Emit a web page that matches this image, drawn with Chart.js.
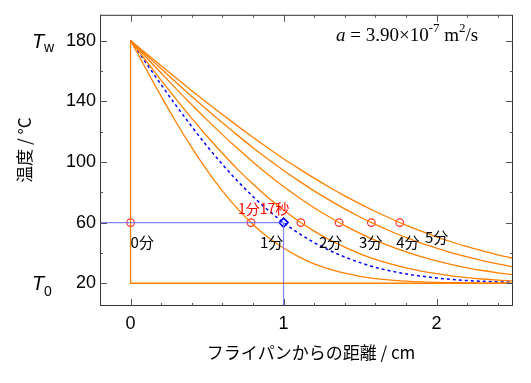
<!DOCTYPE html>
<html><head><meta charset="utf-8">
<script src="https://cdn.jsdelivr.net/npm/chart.js@4"></script>
<style>html,body{margin:0;padding:0;background:#fff}#wrap{width:531px;height:383px}</style>
</head><body><div id="wrap"><canvas id="c" width="531" height="383"></canvas></div>
<script>
// distance from pan (cm)
const xs = [0,0.1,0.2,0.3,0.4,0.5,0.6,0.7,0.8,0.9,1.0,1.1,1.2,1.3,1.4,1.5,1.6,1.7,1.8,1.9,2.0,2.1,2.2,2.3,2.4,2.5];
// temperature (°C) curves
const t1min = [180,161.4,143.2,125.8,109.4,94.4,80.9,69.0,58.8,50.2,43.2,37.4,32.8,29.3,26.6,24.6,23.1,22.1,21.4,20.9,20.6,20.4,20.2,20.1,20.1,20.0];
const t2min = [180,166.8,153.8,141.1,128.7,116.9,105.7,95.1,85.4,76.4,68.3,60.9,54.4,48.7,43.8,39.4,35.8,32.7,30.1,28.0,26.3,24.9,23.7,22.8,22.1,21.6];
const t3min = [180,169.2,158.6,148.0,137.7,127.7,118.0,108.8,100.0,91.6,83.8,76.5,69.8,63.7,58.0,52.9,48.3,44.3,40.7,37.5,34.7,32.3,30.2,28.4,26.9,25.6];
const t4min = [180,170.7,161.4,152.2,143.2,134.4,125.8,117.5,109.4,101.7,94.4,87.5,80.9,74.8,69.0,63.7,58.8,54.3,50.2,46.4,43.2,40.0,37.4,34.9,32.8,30.9];
const t5min = [180,171.7,163.4,155.1,147.0,139.0,131.2,123.6,116.2,109.0,102.1,95.6,89.3,83.3,77.6,72.3,67.3,62.7,58.3,54.3,50.6,47.2,44.1,41.4,38.7,36.5];
const tDash = [180,165.4,150.9,136.8,123.3,110.4,98.4,87.3,77.2,68.1,60.0,52.9,46.8,41.7,37.3,33.6,30.5,28.1,26.2,24.7,23.5,22.5,21.8,21.3,20.9,20.7];
// initial state (0分)
const t0X = [0,0,2.5];
const t0Y = [180,20,20];
// points where T = 60
const markX = [0,0.787,1.113,1.363,1.574,1.760];
const markY = [60,60,60,60,60,60];
const diamondX = [1.0];
const diamondY = [60];
// guide lines
const guideX = [-0.2,1.0,1.0];
const guideY = [60,60,5];
// tick values
const xTicks = [0,1,2];
const yTicks = [20,60,100,140,180];
// curve labels
const labelText = ['0分','1分','2分','3分','4分','5分','1分17秒'];
const labelX = [0.0,0.846,1.231,1.494,1.736,1.924,0.702];
const labelY = [46.9,47.3,46.7,46.7,46.7,50.6,69.4];

const pts = (a,b)=>a.map((v,i)=>({x:v,y:b[i]}));
const ORANGE = '#ff8000';
const curve = (arr)=>({data:pts(xs,arr),borderColor:ORANGE,borderWidth:1.3,pointRadius:0,cubicInterpolationMode:'monotone',fill:false});

const framePlugin = {
  id:'frame',
  afterDraw(chart){
    const {ctx,chartArea:a,scales:{x,y}} = chart;
    ctx.save();
    ctx.strokeStyle='#333'; ctx.lineWidth=1;
    ctx.strokeRect(a.left+0.5,a.top+0.5,a.right-a.left-1,a.bottom-a.top-1);
    ctx.strokeStyle='#555';
    ctx.beginPath();
    for(let v=-0.2; v<=2.5001; v+=0.2){
      const vv=Math.round(v*10)/10;
      const major = Math.abs(vv-Math.round(vv))<1e-6;
      const L = major?7:3;
      const px=Math.round(x.getPixelForValue(vv))+0.5;
      if(px<=a.left+1||px>=a.right-1) continue;
      ctx.moveTo(px,a.bottom); ctx.lineTo(px,a.bottom-L);
      ctx.moveTo(px,a.top); ctx.lineTo(px,a.top+L);
    }
    for(let v=20; v<=190; v+=20){
      const major = (v-20)%40===0;
      const L = major?7:3;
      const py=Math.round(y.getPixelForValue(v))+0.5;
      ctx.moveTo(a.left,py); ctx.lineTo(a.left+L,py);
      ctx.moveTo(a.right,py); ctx.lineTo(a.right-L,py);
    }
    ctx.stroke();

    // curve labels
    ctx.textBaseline='middle'; ctx.textAlign='left';
    labelText.forEach((t,i)=>{
      const red = i===6;
      ctx.fillStyle = red?'#ff0000':'#000';
      ctx.font = (red?'14px':'15px')+' "Noto Sans CJK JP", sans-serif';
      ctx.fillText(t, x.getPixelForValue(labelX[i]), y.getPixelForValue(labelY[i]));
    });

    // T_w, T_0
    ctx.fillStyle='#000'; ctx.textBaseline='alphabetic';
    const tw = y.getPixelForValue(180), t0 = y.getPixelForValue(20);
    ctx.font='italic 20px "Liberation Sans", Arial, sans-serif';
    ctx.fillText('T',32,tw+7);
    ctx.fillText('T',32,t0+7);
    ctx.font='14px "Liberation Sans", Arial, sans-serif';
    ctx.fillText('w',44,tw+11);
    ctx.fillText('0',44,t0+13);

    // diffusivity annotation
    let cx=336; const by=41;
    const seg=(txt,font,dy)=>{ctx.font=font; ctx.fillText(txt,cx,by+dy); cx+=ctx.measureText(txt).width;};
    const F='"Liberation Serif", "Times New Roman", serif';
    seg('a','italic 19px '+F,0);
    seg(' = 3.90×10','19px '+F,0);
    seg('-7','13px '+F,-9);
    seg(' m','19px '+F,0);
    seg('2','13px '+F,-9);
    seg('/s','19px '+F,0);

    // axis titles
    ctx.font='17px "Noto Sans CJK JP", sans-serif';
    ctx.textAlign='center'; ctx.textBaseline='middle';
    ctx.fillText('フライパンからの距離 / cm',311,353);
    ctx.translate(25,150); ctx.rotate(-Math.PI/2);
    ctx.fillText('温度 / °C',0,0);
    ctx.restore();
  }
};

new Chart(document.getElementById('c'),{
  type:'line',
  data:{datasets:[
    {data:pts(guideX,guideY),borderColor:'rgba(110,110,255,0.85)',borderWidth:1.2,pointRadius:0,tension:0},
    {data:pts(t0X,t0Y),borderColor:ORANGE,borderWidth:1.3,pointRadius:0,tension:0},
    curve(t1min),curve(t2min),curve(t3min),curve(t4min),curve(t5min),
    {data:pts(xs,tDash),borderColor:'#0000ff',borderWidth:1.5,borderDash:[3,3],pointRadius:0,cubicInterpolationMode:'monotone'},
    {data:pts(markX,markY),showLine:false,pointRadius:3.8,pointStyle:'circle',pointBorderColor:'#ff3030',pointBackgroundColor:'rgba(0,0,0,0)',pointBorderWidth:1.2},
    {data:pts(diamondX,diamondY),showLine:false,pointRadius:4.5,pointStyle:'rectRot',pointBorderColor:'#0000ff',pointBackgroundColor:'rgba(0,0,0,0)',pointBorderWidth:1.6}
  ]},
  options:{
    responsive:false,animation:false,
    layout:{padding:{top:11,right:18,left:0,bottom:0}},
    plugins:{legend:{display:false},tooltip:{enabled:false}},
    scales:{
      x:{type:'linear',min:-0.2,max:2.5,
        afterBuildTicks:s=>{s.ticks=xTicks.map(v=>({value:v}));},
        afterFit:s=>{s.height=77;},
        grid:{display:false,drawTicks:false},border:{display:false},
        ticks:{padding:7,color:'#000',font:{family:'"Liberation Sans", Arial, sans-serif',size:18},callback:v=>String(v),maxRotation:0}},
      y:{type:'linear',min:5,max:197,
        afterBuildTicks:s=>{s.ticks=yTicks.map(v=>({value:v}));},
        afterFit:s=>{s.width=100;},
        grid:{display:false,drawTicks:false},border:{display:false},
        ticks:{padding:4,color:'#000',font:{family:'"Liberation Sans", Arial, sans-serif',size:18},callback:v=>String(v)}}
    }
  },
  plugins:[framePlugin]
});
</script></body></html>
